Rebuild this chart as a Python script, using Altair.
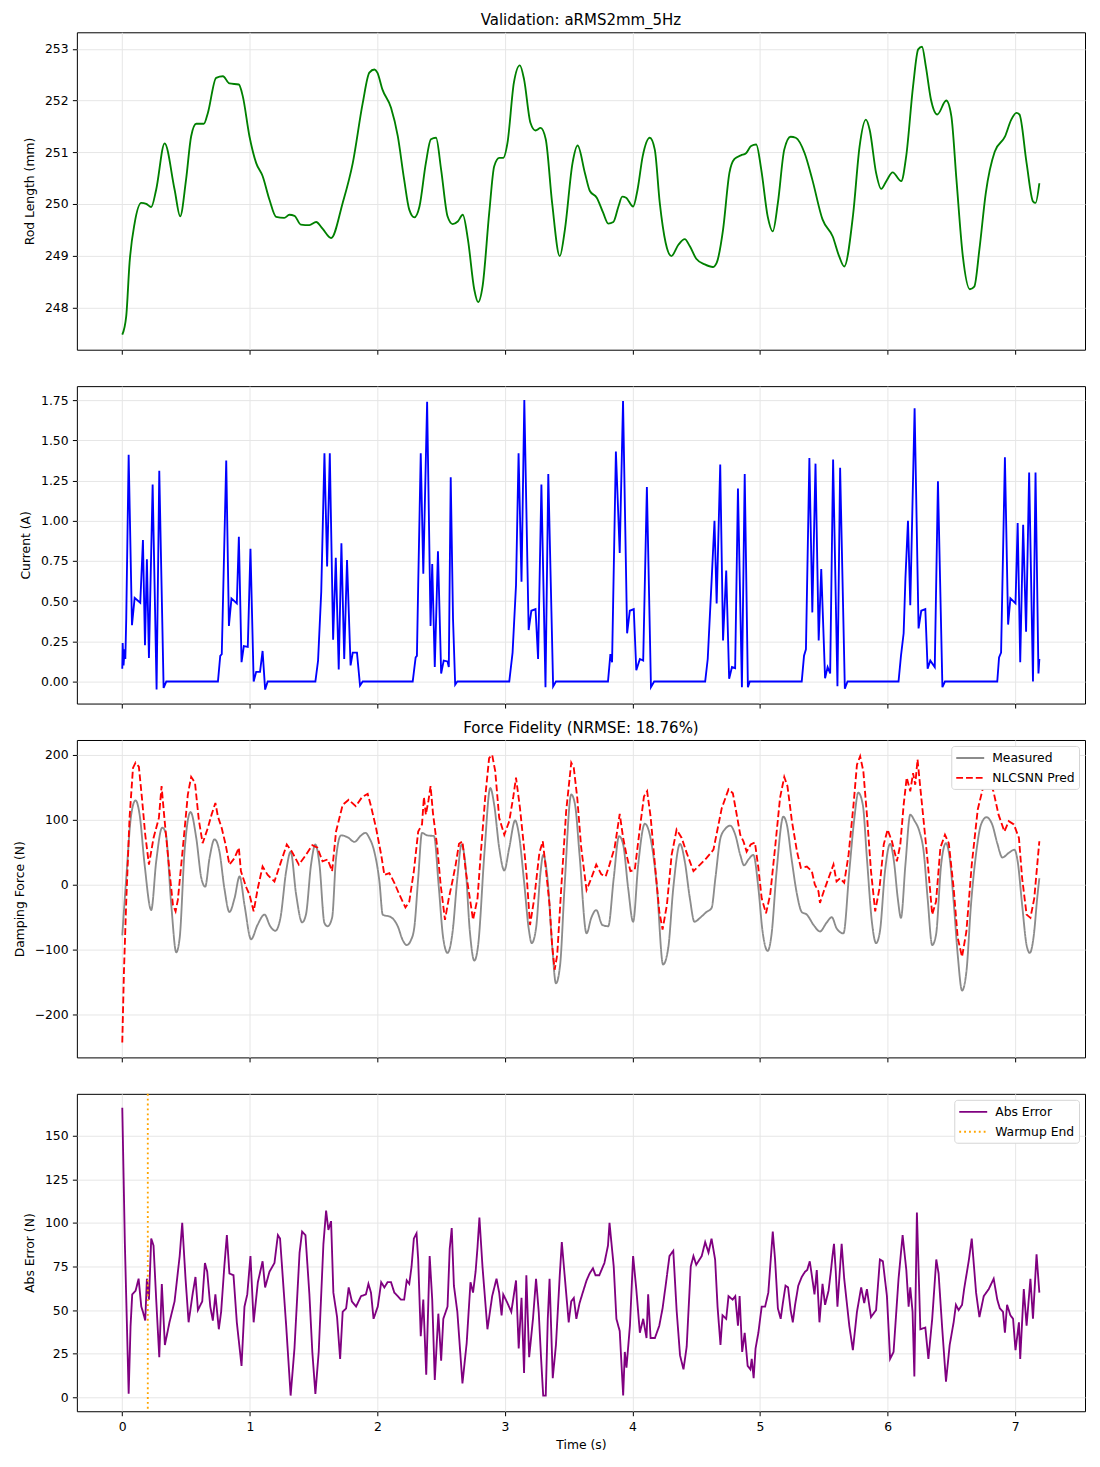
import altair as alt
import pandas as pd

# ---------------- data ----------------
# (time s, value) pairs
ROD_LENGTH = [
    (0.0, 247.47), (0.031, 247.83), (0.057, 248.86), (0.097, 249.63), (0.149, 250.02),
    (0.188, 250.0), (0.227, 249.94), (0.266, 250.28), (0.332, 251.17), (0.41, 250.28),
    (0.454, 249.76), (0.5, 250.47), (0.54, 251.31), (0.58, 251.55), (0.64, 251.55),
    (0.671, 251.76), (0.736, 252.44), (0.789, 252.47), (0.84, 252.33), (0.914, 252.31),
    (0.945, 252.08), (0.997, 251.31), (1.05, 250.79), (1.10, 250.54), (1.154, 250.08),
    (1.206, 249.75), (1.27, 249.73), (1.31, 249.79), (1.35, 249.77), (1.40, 249.6),
    (1.467, 249.59), (1.52, 249.65), (1.57, 249.52), (1.637, 249.34), (1.728, 250.02),
    (1.807, 250.79), (1.885, 251.95), (1.937, 252.54), (1.977, 252.6), (2.0, 252.54),
    (2.04, 252.21), (2.107, 251.86), (2.16, 251.31), (2.21, 250.47), (2.25, 249.89),
    (2.29, 249.74), (2.33, 249.95), (2.38, 250.79), (2.42, 251.25), (2.46, 251.28),
    (2.50, 250.66), (2.55, 249.76), (2.59, 249.61), (2.63, 249.66), (2.67, 249.79),
    (2.71, 249.31), (2.76, 248.34), (2.79, 248.1), (2.825, 248.41), (2.877, 249.83),
    (2.916, 250.73), (2.956, 250.89), (2.987, 250.89), (3.02, 251.18), (3.07, 252.34),
    (3.117, 252.68), (3.15, 252.41), (3.20, 251.57), (3.24, 251.42), (3.28, 251.47),
    (3.32, 251.25), (3.37, 250.02), (3.43, 248.99), (3.47, 249.5), (3.53, 250.79),
    (3.57, 251.13), (3.627, 250.6), (3.666, 250.25), (3.72, 250.12), (3.77, 249.83),
    (3.81, 249.62), (3.85, 249.65), (3.89, 249.95), (3.92, 250.14), (3.95, 250.12),
    (4.005, 249.95), (4.04, 250.28), (4.08, 250.92), (4.136, 251.28), (4.175, 251.05),
    (4.214, 250.02), (4.26, 249.25), (4.305, 248.99), (4.36, 249.21), (4.41, 249.32),
    (4.45, 249.18), (4.50, 248.94), (4.567, 248.83), (4.63, 248.78), (4.66, 248.86),
    (4.71, 249.50), (4.76, 250.6), (4.80, 250.87), (4.85, 250.94), (4.89, 250.98),
    (4.93, 251.12), (4.97, 251.15), (5.01, 250.66), (5.06, 249.76), (5.10, 249.47),
    (5.14, 250.02), (5.19, 251.05), (5.24, 251.3), (5.28, 251.28), (5.35, 250.98),
    (5.41, 250.47), (5.49, 249.7), (5.57, 249.37), (5.62, 248.99), (5.66, 248.79),
    (5.73, 249.8), (5.78, 251.1), (5.83, 251.63), (5.86, 251.43), (5.91, 250.6),
    (5.95, 250.29), (5.99, 250.44), (6.04, 250.61), (6.107, 250.44), (6.146, 250.92),
    (6.20, 252.28), (6.24, 252.99), (6.27, 253.04), (6.30, 252.66), (6.34, 252.02),
    (6.39, 251.73), (6.46, 252.0), (6.50, 251.7), (6.54, 250.47), (6.59, 248.99),
    (6.645, 248.35), (6.68, 248.4), (6.72, 249.12), (6.77, 250.21), (6.84, 251.01),
    (6.92, 251.3), (6.97, 251.63), (7.01, 251.76), (7.034, 251.73), (7.09, 250.79),
    (7.14, 250.05), (7.16, 250.02), (7.19, 250.4),
]

CURRENT = [
    (0.0, 0.08), (0.003, 0.24), (0.01, 0.10), (0.018, 0.20), (0.024, 0.14), (0.031, 0.39),
    (0.05, 1.41), (0.076, 0.35), (0.097, 0.52), (0.141, 0.49), (0.162, 0.88), (0.178, 0.225),
    (0.193, 0.76), (0.209, 0.146), (0.238, 1.225), (0.269, -0.05), (0.29, 1.31), (0.324, -0.04),
    (0.345, 0.0), (0.75, 0.0), (0.768, 0.16), (0.78, 0.17), (0.815, 1.375), (0.836, 0.346),
    (0.856, 0.517), (0.898, 0.486), (0.914, 0.9), (0.935, 0.12), (0.953, 0.22), (0.984, 0.215),
    (1.005, 0.825), (1.03, 0.0), (1.05, 0.06), (1.08, 0.06), (1.10, 0.19), (1.12, -0.05),
    (1.14, 0.0), (1.514, 0.0), (1.535, 0.13), (1.56, 0.56), (1.585, 1.42), (1.606, 0.715),
    (1.627, 1.42), (1.653, 0.26), (1.674, 0.77), (1.697, 0.075), (1.718, 0.86), (1.74, 0.14),
    (1.762, 0.756), (1.79, 0.1), (1.807, 0.18), (1.84, 0.18), (1.864, -0.025), (1.885, 0.0),
    (2.277, 0.0), (2.30, 0.15), (2.31, 0.16), (2.32, 0.6), (2.34, 1.42), (2.36, 0.67),
    (2.39, 1.74), (2.417, 0.346), (2.43, 0.73), (2.45, 0.09), (2.475, 0.81), (2.50, 0.05),
    (2.52, 0.13), (2.55, 0.125), (2.56, 0.09), (2.575, 1.27), (2.593, 0.39), (2.61, -0.02),
    (2.627, 0.0), (3.034, 0.0), (3.06, 0.18), (3.087, 0.6), (3.107, 1.42), (3.13, 0.62),
    (3.152, 1.75), (3.186, 0.32), (3.207, 0.44), (3.24, 0.45), (3.26, 0.14), (3.286, 1.225),
    (3.318, -0.035), (3.34, 1.29), (3.378, -0.03), (3.40, 0.0), (3.808, 0.0), (3.827, 0.17),
    (3.84, 0.12), (3.87, 1.43), (3.90, 0.8), (3.926, 1.745), (3.958, 0.3), (3.979, 0.44),
    (4.01, 0.45), (4.03, 0.07), (4.058, 0.14), (4.084, 0.13), (4.113, 1.21), (4.145, -0.035),
    (4.17, 0.0), (4.57, 0.0), (4.59, 0.14), (4.62, 0.62), (4.643, 1.0), (4.66, 0.485),
    (4.688, 1.35), (4.71, 0.256), (4.735, 0.69), (4.758, 0.017), (4.78, 0.09), (4.805, 0.083),
    (4.827, 1.2), (4.858, -0.035), (4.88, 1.29), (4.905, -0.035), (4.92, 0.0), (5.327, 0.0),
    (5.345, 0.16), (5.36, 0.2), (5.387, 1.39), (5.41, 0.43), (5.435, 1.355), (5.46, 0.256),
    (5.48, 0.7), (5.51, 0.02), (5.53, 0.09), (5.55, 0.05), (5.573, 1.38), (5.607, -0.03),
    (5.628, 1.33), (5.665, -0.045), (5.686, 0.0), (6.086, 0.0), (6.105, 0.16), (6.126, 0.3),
    (6.14, 0.64), (6.16, 1.0), (6.178, 0.475), (6.212, 1.7), (6.243, 0.33), (6.264, 0.44),
    (6.296, 0.45), (6.314, 0.08), (6.335, 0.13), (6.37, 0.09), (6.395, 1.245), (6.43, -0.035),
    (6.45, 0.0), (6.86, 0.0), (6.874, 0.15), (6.89, 0.18), (6.92, 1.395), (6.945, 0.354),
    (6.963, 0.517), (7.003, 0.486), (7.02, 0.985), (7.04, 0.12), (7.063, 0.975), (7.086, 0.31),
    (7.11, 1.3), (7.14, 0.0), (7.16, 1.3), (7.183, 0.05), (7.19, 0.14),
]

FORCE_MEASURED = [
    (0.0, -78), (0.031, 10), (0.07, 108), (0.104, 130), (0.136, 108), (0.175, 31), (0.227, -39),
    (0.266, 36), (0.313, 88), (0.34, 80), (0.384, -31), (0.423, -104), (0.45, -82), (0.488, 51),
    (0.535, 112), (0.58, 72), (0.62, 10), (0.65, -3), (0.684, 41), (0.723, 70), (0.762, 51),
    (0.80, -5), (0.84, -42), (0.88, -21), (0.92, 13), (0.958, -31), (1.01, -84), (1.06, -62),
    (1.115, -46), (1.16, -64), (1.20, -71), (1.24, -51), (1.285, 21), (1.32, 51), (1.363, -15),
    (1.41, -58), (1.44, -46), (1.48, 31), (1.514, 62), (1.546, 31), (1.585, -59), (1.61, -64),
    (1.645, -51), (1.676, 41), (1.715, 76), (1.768, 73), (1.82, 66), (1.872, 76), (1.906, 80),
    (1.937, 72), (1.976, 51), (2.016, 5), (2.042, -46), (2.107, -50), (2.16, -64), (2.198, -85),
    (2.23, -93), (2.264, -85), (2.29, -65), (2.32, 10), (2.35, 80), (2.39, 76), (2.444, 75),
    (2.48, 0), (2.516, -82), (2.55, -105), (2.59, -72), (2.627, 10), (2.66, 62), (2.69, 31),
    (2.725, -72), (2.76, -117), (2.79, -93), (2.84, 51), (2.885, 149), (2.916, 123), (2.955, 57),
    (2.995, 22), (3.034, 57), (3.08, 99), (3.11, 77), (3.15, 5), (3.186, -67), (3.21, -90),
    (3.244, -67), (3.28, 21), (3.30, 46), (3.336, 5), (3.37, -93), (3.40, -152), (3.433, -123),
    (3.467, -5), (3.52, 139), (3.55, 123), (3.585, 46), (3.64, -75), (3.677, -51), (3.716, -39),
    (3.764, -62), (3.81, -64), (3.853, 10), (3.895, 75), (3.927, 62), (3.966, -5), (4.005, -57),
    (4.045, 31), (4.097, 94), (4.136, 77), (4.19, 0), (4.24, -123), (4.28, -98), (4.32, -5),
    (4.373, 63), (4.41, 36), (4.45, -21), (4.486, -57), (4.53, -51), (4.58, -42), (4.62, -36),
    (4.65, 10), (4.69, 72), (4.727, 86), (4.766, 91), (4.806, 77), (4.845, 46), (4.875, 30),
    (4.91, 39), (4.948, 46), (4.987, -5), (5.02, -72), (5.06, -102), (5.09, -77), (5.13, 21),
    (5.183, 105), (5.21, 93), (5.25, 36), (5.29, -15), (5.327, -42), (5.367, -46), (5.42, -62),
    (5.47, -72), (5.52, -59), (5.563, -50), (5.60, -67), (5.654, -75), (5.70, 21), (5.74, 103),
    (5.77, 142), (5.806, 123), (5.838, 41), (5.877, -57), (5.91, -90), (5.94, -72), (5.98, 21),
    (6.02, 63), (6.05, 36), (6.08, -21), (6.105, -51), (6.14, 31), (6.178, 108), (6.21, 99),
    (6.25, 82), (6.283, 51), (6.314, -21), (6.35, -93), (6.38, -77), (6.42, 31), (6.458, 64),
    (6.487, 41), (6.52, -31), (6.55, -108), (6.584, -163), (6.618, -134), (6.654, -31),
    (6.696, 51), (6.733, 93), (6.775, 104), (6.82, 93), (6.86, 64), (6.90, 42), (6.95, 49),
    (6.995, 54), (7.02, 36), (7.055, -31), (7.09, -93), (7.115, -105), (7.147, -77),
    (7.173, -21), (7.19, 10),
]

FORCE_PRED = [
    (0.0, -243), (0.013, -134), (0.031, -26), (0.057, 103), (0.084, 180), (0.104, 188),
    (0.13, 182), (0.154, 134), (0.18, 77), (0.209, 31), (0.245, 72), (0.287, 103), (0.308, 152),
    (0.33, 103), (0.365, 31), (0.397, -31), (0.418, -41), (0.436, -23), (0.475, 57), (0.514, 139),
    (0.54, 166), (0.57, 157), (0.60, 100), (0.63, 64), (0.67, 87), (0.70, 108), (0.73, 126),
    (0.75, 105), (0.78, 87), (0.81, 62), (0.84, 31), (0.88, 41), (0.914, 57), (0.93, 21),
    (0.97, -3), (0.997, -15), (1.03, -41), (1.063, -5), (1.10, 28), (1.14, 15), (1.193, 5),
    (1.237, 31), (1.29, 62), (1.33, 51), (1.384, 31), (1.44, 46), (1.49, 61), (1.53, 57),
    (1.57, 36), (1.61, 39), (1.645, 21), (1.676, 82), (1.728, 123), (1.775, 131), (1.83, 121),
    (1.88, 135), (1.924, 140), (1.95, 121), (1.99, 87), (2.03, 46), (2.055, 15), (2.094, 18),
    (2.133, 3), (2.172, -15), (2.22, -35), (2.25, -26), (2.286, 21), (2.32, 82), (2.35, 93),
    (2.365, 135), (2.38, 108), (2.40, 129), (2.417, 152), (2.436, 110), (2.47, 57), (2.496, 0),
    (2.53, -54), (2.56, -21), (2.588, 5), (2.614, 31), (2.64, 63), (2.667, 67), (2.693, 21),
    (2.725, -21), (2.75, -54), (2.785, -21), (2.81, 46), (2.845, 134), (2.876, 195), (2.90, 200),
    (2.924, 175), (2.955, 103), (2.995, 77), (3.034, 98), (3.066, 136), (3.087, 165),
    (3.118, 118), (3.15, 57), (3.17, 15), (3.197, -62), (3.23, -21), (3.27, 49), (3.297, 67),
    (3.32, 26), (3.35, -31), (3.37, -93), (3.39, -131), (3.41, -108), (3.44, -10), (3.48, 113),
    (3.52, 188), (3.54, 180), (3.567, 134), (3.598, 57), (3.64, -8), (3.677, 10), (3.716, 31),
    (3.756, 16), (3.79, 13), (3.82, 31), (3.86, 57), (3.90, 109), (3.927, 72), (3.953, 46),
    (3.984, 21), (4.018, 23), (4.058, 87), (4.09, 136), (4.115, 144), (4.142, 105), (4.176, 31),
    (4.21, -41), (4.236, -69), (4.27, -31), (4.307, 46), (4.346, 85), (4.386, 72), (4.425, 49),
    (4.478, 21), (4.53, 31), (4.58, 41), (4.635, 54), (4.70, 118), (4.753, 147), (4.787, 141),
    (4.82, 105), (4.845, 77), (4.87, 67), (4.895, 51), (4.927, 62), (4.96, 65), (4.987, 26),
    (5.013, -21), (5.047, -44), (5.08, -15), (5.118, 57), (5.157, 134), (5.19, 166),
    (5.215, 152), (5.25, 98), (5.29, 51), (5.32, 26), (5.367, 28), (5.406, 21), (5.43, 0),
    (5.458, -10), (5.47, -28), (5.50, -10), (5.537, 10), (5.576, 31), (5.60, 5), (5.628, 10),
    (5.66, 3), (5.694, 46), (5.733, 123), (5.76, 185), (5.785, 198), (5.81, 175), (5.838, 108),
    (5.87, 21), (5.903, -41), (5.937, -5), (5.97, 62), (6.0, 85), (6.034, 67), (6.073, 36),
    (6.10, 62), (6.126, 123), (6.15, 165), (6.178, 144), (6.20, 172), (6.217, 154), (6.235, 193),
    (6.257, 149), (6.283, 98), (6.314, 36), (6.35, -46), (6.38, -26), (6.414, 57), (6.45, 77),
    (6.48, 64), (6.518, -5), (6.55, -82), (6.584, -111), (6.618, -72), (6.66, 31), (6.707, 116),
    (6.754, 154), (6.79, 162), (6.83, 144), (6.87, 108), (6.916, 82), (6.95, 98), (6.99, 93),
    (7.03, 72), (7.055, 10), (7.09, -46), (7.12, -51), (7.15, -21), (7.19, 67),
]

ABS_ERROR = [
    (0.0, 166), (0.02, 89), (0.05, 2), (0.065, 41), (0.078, 59), (0.104, 61), (0.128, 68),
    (0.149, 52), (0.162, 49), (0.18, 44), (0.193, 68), (0.209, 56), (0.227, 91), (0.245, 87),
    (0.266, 56), (0.29, 23), (0.31, 65), (0.334, 30), (0.37, 43), (0.41, 55), (0.45, 81),
    (0.47, 100), (0.496, 68), (0.52, 43), (0.553, 60), (0.574, 69), (0.593, 50), (0.627, 55),
    (0.648, 77), (0.666, 72), (0.69, 52), (0.71, 44), (0.73, 59), (0.757, 39), (0.775, 49),
    (0.80, 75), (0.82, 93), (0.84, 71), (0.872, 70), (0.898, 43), (0.935, 18), (0.958, 52),
    (0.98, 59), (1.005, 81), (1.03, 43), (1.063, 66), (1.10, 78), (1.12, 63), (1.154, 72),
    (1.193, 77), (1.22, 93), (1.237, 91), (1.285, 41), (1.32, 1), (1.35, 28), (1.39, 83),
    (1.41, 95), (1.436, 93), (1.467, 59), (1.49, 26), (1.514, 2), (1.54, 26), (1.577, 88),
    (1.598, 107), (1.616, 96), (1.637, 101), (1.655, 60), (1.684, 46), (1.708, 22), (1.728, 49),
    (1.755, 51), (1.775, 63), (1.80, 55), (1.833, 52), (1.872, 58), (1.91, 59), (1.93, 65),
    (1.95, 60), (1.97, 45), (2.003, 52), (2.03, 66), (2.055, 63), (2.08, 66), (2.107, 66),
    (2.133, 60), (2.16, 58), (2.185, 56), (2.21, 56), (2.23, 67), (2.25, 65), (2.268, 75),
    (2.286, 91), (2.307, 94), (2.32, 79), (2.34, 35), (2.36, 56), (2.383, 13), (2.41, 81),
    (2.43, 56), (2.45, 10), (2.478, 48), (2.50, 21), (2.517, 45), (2.55, 52), (2.567, 85),
    (2.583, 97), (2.60, 64), (2.627, 49), (2.667, 8), (2.70, 31), (2.73, 66), (2.75, 60),
    (2.77, 72), (2.785, 86), (2.80, 103), (2.824, 75), (2.863, 39), (2.90, 58), (2.934, 68),
    (2.955, 60), (2.974, 47), (2.987, 59), (3.02, 54), (3.05, 49), (3.087, 67), (3.108, 28),
    (3.13, 57), (3.15, 14), (3.168, 70), (3.19, 23), (3.22, 45), (3.244, 68), (3.265, 49),
    (3.283, 23), (3.30, 1), (3.32, 1), (3.336, 45), (3.35, 68), (3.375, 11), (3.40, 30),
    (3.43, 70), (3.446, 89), (3.467, 71), (3.50, 43), (3.52, 55), (3.54, 57), (3.56, 45),
    (3.585, 54), (3.61, 60), (3.64, 67), (3.664, 71), (3.69, 74), (3.71, 70), (3.74, 70),
    (3.78, 77), (3.808, 87), (3.82, 100), (3.853, 75), (3.874, 45), (3.90, 38), (3.927, 1),
    (3.94, 26), (3.953, 17), (3.98, 41), (4.005, 81), (4.03, 62), (4.058, 37), (4.084, 45),
    (4.11, 34), (4.123, 59), (4.142, 34), (4.176, 34), (4.21, 41), (4.236, 51), (4.26, 64),
    (4.29, 81), (4.32, 84), (4.346, 50), (4.373, 24), (4.40, 16), (4.425, 29), (4.457, 75),
    (4.478, 81), (4.50, 76), (4.543, 81), (4.57, 89), (4.596, 83), (4.62, 91), (4.648, 79),
    (4.667, 52), (4.69, 30), (4.706, 47), (4.735, 45), (4.753, 58), (4.785, 56), (4.806, 58),
    (4.827, 41), (4.84, 58), (4.86, 26), (4.88, 37), (4.903, 18), (4.924, 16), (4.935, 22),
    (4.95, 11), (4.965, 28), (4.987, 37), (5.013, 52), (5.04, 52), (5.065, 60), (5.08, 75),
    (5.10, 95), (5.118, 79), (5.14, 51), (5.162, 45), (5.183, 56), (5.20, 64), (5.22, 63),
    (5.24, 50), (5.257, 43), (5.275, 53), (5.30, 64), (5.327, 69), (5.353, 72), (5.37, 73),
    (5.39, 78), (5.408, 69), (5.427, 59), (5.445, 73), (5.466, 43), (5.49, 65), (5.51, 53),
    (5.537, 61), (5.555, 72), (5.568, 81), (5.58, 88), (5.594, 72), (5.607, 52), (5.628, 75),
    (5.64, 88), (5.66, 68), (5.70, 41), (5.728, 27), (5.76, 49), (5.793, 63), (5.817, 54),
    (5.838, 62), (5.87, 46), (5.91, 50), (5.94, 79), (5.963, 78), (5.995, 58), (6.02, 22),
    (6.047, 26), (6.086, 68), (6.118, 93), (6.147, 73), (6.165, 52), (6.178, 63), (6.196, 49),
    (6.21, 12), (6.23, 106), (6.257, 39), (6.296, 40), (6.32, 22), (6.35, 45), (6.382, 79),
    (6.40, 71), (6.427, 41), (6.458, 9), (6.487, 30), (6.518, 43), (6.536, 53), (6.557, 50),
    (6.584, 53), (6.60, 62), (6.636, 78), (6.66, 91), (6.694, 60), (6.72, 46), (6.754, 58),
    (6.793, 62), (6.832, 68), (6.86, 56), (6.88, 51), (6.905, 49), (6.92, 37), (6.937, 53),
    (6.963, 47), (6.984, 45), (7.003, 27), (7.03, 43), (7.04, 22), (7.068, 62), (7.09, 41),
    (7.12, 68), (7.14, 45), (7.168, 82), (7.19, 60),
]

WARMUP_END = [0.2]

X_TICKS = [0, 1, 2, 3, 4, 5, 6, 7]
ROD_TICKS = [248, 249, 250, 251, 252, 253]
CUR_TICKS = [0.0, 0.25, 0.5, 0.75, 1.0, 1.25, 1.5, 1.75]
FORCE_TICKS = [-200, -100, 0, 100, 200]
ERR_TICKS = [0, 25, 50, 75, 100, 125, 150]

FORCE_SERIES = ["Measured", "NLCSNN Pred"]
ERR_SERIES = ["Abs Error", "Warmup End"]


def frame(pairs, name=None):
    df = pd.DataFrame(pairs, columns=["t", "v"])
    if name is not None:
        df["series"] = name
    return df


FONT = "DejaVu Sans"
W, H = 1010, 318
XDOM = [-0.356, 7.548]
LW = 1.85

xscale = alt.Scale(domain=XDOM, nice=False, zero=False)
x_hidden = alt.X("t:Q", scale=xscale,
                 axis=alt.Axis(values=X_TICKS, labels=False, title=None))
x_shown = alt.X("t:Q", scale=xscale,
                axis=alt.Axis(values=X_TICKS, format="d", title="Time (s)"))


def ptitle(text):
    return alt.TitleParams(text, font=FONT, fontSize=15, fontWeight="normal",
                           anchor="middle", offset=4.5, color="black")


# legend line symbol: a flat path about 28 px long, laid out as a 14 px symbol
legend_common = dict(orient="top-right", offset=6, symbolType="M-1,0L3,0",
                     symbolSize=196, symbolStrokeWidth=LW, labelFont=FONT,
                     labelFontSize=12.4, labelColor="black", padding=4,
                     rowPadding=5, labelOffset=21, fillColor="white",
                     strokeColor="#d5d5d5", cornerRadius=3)

# ---------------- panel 1: rod length ----------------
p1 = alt.Chart(frame(ROD_LENGTH)).mark_line(
    color="green", strokeWidth=LW, interpolate="monotone"
).encode(
    x=x_hidden,
    y=alt.Y("v:Q", scale=alt.Scale(domain=[247.18, 253.32], nice=False, zero=False),
            axis=alt.Axis(values=ROD_TICKS, format="d", title="Rod Length (mm)")),
).properties(width=W, height=H, title=ptitle("Validation: aRMS2mm_5Hz"))

# ---------------- panel 2: current ----------------
p2 = alt.Chart(frame(CURRENT)).mark_line(color="blue", strokeWidth=LW).encode(
    x=x_hidden,
    y=alt.Y("v:Q", scale=alt.Scale(domain=[-0.137, 1.837], nice=False, zero=False),
            axis=alt.Axis(values=CUR_TICKS, format=".2f", title="Current (A)")),
).properties(width=W, height=H)

# ---------------- panel 3: force ----------------
f_color = alt.Color("series:N", title=None,
                    scale=alt.Scale(domain=FORCE_SERIES, range=["#8c8c8c", "red"]),
                    legend=alt.Legend(**legend_common))
f_dash = alt.StrokeDash("series:N", title=None,
                        scale=alt.Scale(domain=FORCE_SERIES, range=[[1, 0], [6.8, 3.0]]),
                        legend=alt.Legend(**legend_common))
f_y = alt.Y("v:Q", scale=alt.Scale(domain=[-266, 223], nice=False, zero=False),
            axis=alt.Axis(values=FORCE_TICKS, format="d", title="Damping Force (N)"))

meas = alt.Chart(frame(FORCE_MEASURED, "Measured")).mark_line(
    strokeWidth=LW, interpolate="monotone"
).encode(x=x_hidden, y=f_y, color=f_color, strokeDash=f_dash)
pred = alt.Chart(frame(FORCE_PRED, "NLCSNN Pred")).mark_line(strokeWidth=LW).encode(
    x=x_hidden, y=f_y, color=f_color, strokeDash=f_dash)

p3 = alt.layer(meas, pred).properties(
    width=W, height=H, title=ptitle("Force Fidelity (NRMSE: 18.76%)"))

# ---------------- panel 4: abs error ----------------
e_color = alt.Color("series:N", title=None,
                    scale=alt.Scale(domain=ERR_SERIES, range=["purple", "orange"]),
                    legend=alt.Legend(**legend_common))
e_dash = alt.StrokeDash("series:N", title=None,
                        scale=alt.Scale(domain=ERR_SERIES, range=[[1, 0], [1.85, 3.05]]),
                        legend=alt.Legend(**legend_common))
e_y = alt.Y("v:Q", scale=alt.Scale(domain=[-8, 174], nice=False, zero=False),
            axis=alt.Axis(values=ERR_TICKS, format="d", title="Abs Error (N)"))

err = alt.Chart(frame(ABS_ERROR, "Abs Error")).mark_line(strokeWidth=LW).encode(
    x=x_shown, y=e_y, color=e_color, strokeDash=e_dash)
warm_df = pd.DataFrame({"t": WARMUP_END, "series": ["Warmup End"]})
warm = alt.Chart(warm_df).mark_rule(strokeWidth=LW).encode(
    x=x_shown, color=e_color, strokeDash=e_dash)

p4 = alt.layer(err, warm).properties(width=W, height=H)

chart = alt.vconcat(
    p1, p2, p3, p4, spacing=36.5, bounds="flush",
    padding={"left": 4, "top": 3, "right": 6, "bottom": 5},
    background="white",
).resolve_scale(
    color="independent", strokeDash="independent"
).configure_view(
    stroke="black", strokeWidth=1
).configure_axis(
    domain=False, tickColor="black", tickSize=4.5, tickWidth=1,
    labelColor="black", labelFont=FONT, labelFontSize=12.4, labelPadding=4.3,
    titleFont=FONT, titleFontSize=12.4, titleFontWeight="normal", titleColor="black",
    gridColor="#e6e6e6", gridWidth=1,
).configure_axisY(titlePadding=8).configure_axisX(titlePadding=6)

chart.save("out.html", embed_options={"renderer": "svg", "actions": False})
